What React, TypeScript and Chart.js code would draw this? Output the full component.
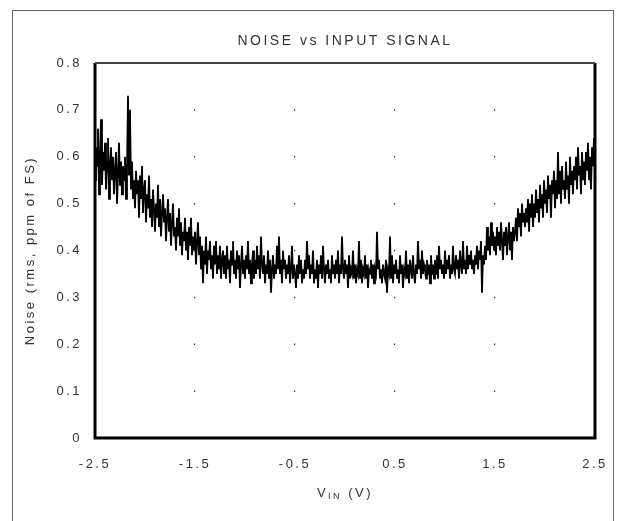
import React, { useEffect, useRef } from 'react';
import { Chart, registerables } from 'chart.js';

Chart.register(...registerables);

const TITLE = 'NOISE vs INPUT SIGNAL';
const Y_TITLE = 'Noise (rms, ppm of FS)';
const X_TITLE_MAIN = 'V';
const X_TITLE_SUB = 'IN';
const X_TITLE_TAIL = ' (V)';

const X_TICKS = [-2.5, -1.5, -0.5, 0.5, 1.5, 2.5];
const Y_TICKS = [0, 0.1, 0.2, 0.3, 0.4, 0.5, 0.6, 0.7, 0.8];

// input sweep: -2.5 V to +2.5 V, one reading every 10 mV
const VIN_START = -2.5;
const VIN_STEP = 0.01;

// noise readings (rms, ppm of FS), 10 readings per row (0.1 V per row)
const NOISE_PPM = [
  0.55, 0.62, 0.58, 0.66, 0.52, 0.60, 0.68, 0.54, 0.61, 0.57, // -2.5
  0.63, 0.53, 0.59, 0.64, 0.51, 0.58, 0.62, 0.55, 0.60, 0.52, // -2.4
  0.57, 0.61, 0.50, 0.56, 0.63, 0.54, 0.59, 0.52, 0.58, 0.55, // -2.3
  0.60, 0.51, 0.57, 0.73, 0.56, 0.70, 0.53, 0.59, 0.51, 0.55, // -2.2
  0.49, 0.57, 0.52, 0.55, 0.47, 0.56, 0.51, 0.58, 0.48, 0.53, // -2.1
  0.55, 0.46, 0.52, 0.49, 0.56, 0.47, 0.51, 0.45, 0.53, 0.49, // -2.0
  0.44, 0.50, 0.47, 0.54, 0.45, 0.51, 0.43, 0.48, 0.52, 0.46, // -1.9
  0.49, 0.42, 0.47, 0.51, 0.44, 0.48, 0.41, 0.46, 0.50, 0.43, // -1.8
  0.45, 0.40, 0.47, 0.43, 0.49, 0.41, 0.46, 0.39, 0.44, 0.42, // -1.7
  0.47, 0.40, 0.44, 0.38, 0.45, 0.41, 0.47, 0.39, 0.43, 0.40, // -1.6
  0.44, 0.37, 0.42, 0.46, 0.39, 0.43, 0.36, 0.41, 0.33, 0.40, // -1.5
  0.37, 0.43, 0.35, 0.40, 0.38, 0.42, 0.36, 0.39, 0.34, 0.41, // -1.4
  0.37, 0.42, 0.35, 0.39, 0.36, 0.41, 0.34, 0.38, 0.40, 0.35, // -1.3
  0.39, 0.34, 0.41, 0.36, 0.38, 0.33, 0.40, 0.37, 0.42, 0.35, // -1.2
  0.38, 0.34, 0.40, 0.36, 0.39, 0.32, 0.37, 0.41, 0.35, 0.38, // -1.1
  0.34, 0.39, 0.36, 0.42, 0.35, 0.38, 0.33, 0.37, 0.40, 0.34, // -1.0
  0.38, 0.35, 0.41, 0.36, 0.39, 0.34, 0.43, 0.37, 0.35, 0.39, // -0.9
  0.33, 0.37, 0.35, 0.40, 0.34, 0.38, 0.31, 0.36, 0.39, 0.34, // -0.8
  0.37, 0.35, 0.41, 0.36, 0.43, 0.35, 0.38, 0.33, 0.40, 0.36, // -0.7
  0.38, 0.34, 0.37, 0.35, 0.39, 0.33, 0.36, 0.41, 0.34, 0.37, // -0.6
  0.35, 0.32, 0.37, 0.34, 0.39, 0.35, 0.38, 0.33, 0.36, 0.34, // -0.5
  0.38, 0.35, 0.42, 0.36, 0.39, 0.34, 0.37, 0.35, 0.40, 0.33, // -0.4
  0.36, 0.34, 0.38, 0.32, 0.37, 0.35, 0.39, 0.34, 0.41, 0.36, // -0.3
  0.33, 0.37, 0.35, 0.38, 0.34, 0.36, 0.33, 0.39, 0.35, 0.37, // -0.2
  0.34, 0.38, 0.35, 0.40, 0.33, 0.37, 0.35, 0.43, 0.36, 0.34, // -0.1
  0.38, 0.35, 0.37, 0.32, 0.39, 0.34, 0.36, 0.35, 0.40, 0.34, // 0.0
  0.37, 0.33, 0.36, 0.35, 0.42, 0.34, 0.38, 0.33, 0.36, 0.35, // 0.1
  0.39, 0.34, 0.37, 0.32, 0.36, 0.35, 0.38, 0.34, 0.37, 0.33, // 0.2
  0.36, 0.35, 0.44, 0.36, 0.38, 0.34, 0.36, 0.33, 0.37, 0.35, // 0.3
  0.34, 0.38, 0.31, 0.36, 0.35, 0.43, 0.34, 0.39, 0.33, 0.37, // 0.4
  0.35, 0.38, 0.34, 0.36, 0.33, 0.39, 0.35, 0.37, 0.32, 0.36, // 0.5
  0.35, 0.40, 0.34, 0.37, 0.33, 0.38, 0.36, 0.34, 0.39, 0.35, // 0.6
  0.33, 0.37, 0.35, 0.42, 0.36, 0.38, 0.34, 0.40, 0.35, 0.37, // 0.7
  0.36, 0.34, 0.38, 0.35, 0.37, 0.33, 0.39, 0.35, 0.37, 0.34, // 0.8
  0.38, 0.35, 0.39, 0.34, 0.41, 0.36, 0.38, 0.35, 0.37, 0.34, // 0.9
  0.40, 0.35, 0.38, 0.36, 0.39, 0.34, 0.37, 0.35, 0.41, 0.36, // 1.0
  0.35, 0.39, 0.36, 0.38, 0.34, 0.40, 0.37, 0.35, 0.42, 0.36, // 1.1
  0.38, 0.35, 0.41, 0.36, 0.39, 0.37, 0.40, 0.36, 0.38, 0.35, // 1.2
  0.39, 0.37, 0.41, 0.36, 0.40, 0.38, 0.42, 0.31, 0.39, 0.37, // 1.3
  0.41, 0.38, 0.45, 0.40, 0.43, 0.39, 0.46, 0.41, 0.44, 0.40, // 1.4
  0.43, 0.39, 0.45, 0.41, 0.44, 0.40, 0.46, 0.42, 0.38, 0.44, // 1.5
  0.41, 0.45, 0.39, 0.43, 0.46, 0.40, 0.44, 0.38, 0.45, 0.42, // 1.6
  0.44, 0.47, 0.42, 0.49, 0.45, 0.48, 0.43, 0.50, 0.46, 0.48, // 1.7
  0.45, 0.49, 0.46, 0.51, 0.44, 0.50, 0.47, 0.52, 0.45, 0.50, // 1.8
  0.47, 0.53, 0.48, 0.51, 0.46, 0.54, 0.49, 0.52, 0.47, 0.55, // 1.9
  0.50, 0.53, 0.48, 0.56, 0.51, 0.54, 0.47, 0.55, 0.52, 0.57, // 2.0
  0.49, 0.55, 0.51, 0.61, 0.52, 0.57, 0.50, 0.58, 0.53, 0.55, // 2.1
  0.51, 0.59, 0.53, 0.56, 0.50, 0.60, 0.54, 0.57, 0.52, 0.58, // 2.2
  0.55, 0.60, 0.53, 0.62, 0.56, 0.58, 0.52, 0.61, 0.55, 0.59, // 2.3
  0.54, 0.61, 0.57, 0.63, 0.55, 0.60, 0.53, 0.62, 0.58, 0.64, // 2.4
  0.57, // 2.5
];

const FONT_FAMILY = '"Liberation Sans", Arial, Helvetica, sans-serif';
const TEXT_COLOR = '#333';
const LETTER_SPACING = '2.5px';

const spacingPlugin = {
  id: 'letterSpacing',
  beforeDraw(chart: any) {
    chart.ctx.letterSpacing = LETTER_SPACING;
  },
};

const framePlugin = {
  id: 'plotFrame',
  afterDatasetsDraw(chart: any) {
    const { ctx, chartArea } = chart;
    const { left, top, right, bottom } = chartArea;
    ctx.save();
    ctx.strokeStyle = '#000';
    ctx.lineWidth = 3;
    ctx.beginPath();
    ctx.moveTo(left, top);
    ctx.lineTo(left, bottom);
    ctx.lineTo(right, bottom);
    ctx.lineTo(right, top);
    ctx.stroke();
    ctx.lineWidth = 2;
    ctx.strokeStyle = '#444';
    ctx.beginPath();
    ctx.moveTo(left, top);
    ctx.lineTo(right, top);
    ctx.stroke();
    ctx.restore();
  },
};

const textPlugin = {
  id: 'titles',
  afterDraw(chart: any) {
    const { ctx, chartArea } = chart;
    const cx = (chartArea.left + chartArea.right) / 2;
    ctx.save();
    ctx.letterSpacing = LETTER_SPACING;
    ctx.fillStyle = TEXT_COLOR;
    ctx.textBaseline = 'middle';

    // chart title, centred over the plot area
    ctx.textAlign = 'left';
    ctx.font = `14px ${FONT_FAMILY}`;
    const tw = ctx.measureText(TITLE).width;
    ctx.fillText(TITLE, cx - tw / 2, chartArea.top - 22);

    // x-axis title with subscript
    const y = chartArea.bottom + 55;
    const f1 = `13px ${FONT_FAMILY}`;
    const f2 = `9px ${FONT_FAMILY}`;
    ctx.font = f1;
    const w1 = ctx.measureText(X_TITLE_MAIN).width;
    const w3 = ctx.measureText(X_TITLE_TAIL).width;
    ctx.font = f2;
    const w2 = ctx.measureText(X_TITLE_SUB).width;
    let x = cx - (w1 + w2 + w3) / 2;
    ctx.font = f1;
    ctx.fillText(X_TITLE_MAIN, x, y);
    x += w1;
    ctx.font = f2;
    ctx.fillText(X_TITLE_SUB, x, y + 4);
    x += w2;
    ctx.font = f1;
    ctx.fillText(X_TITLE_TAIL, x, y);
    ctx.restore();
  },
};

export default function App() {
  const canvasRef = useRef<HTMLCanvasElement | null>(null);

  useEffect(() => {
    const canvas = canvasRef.current;
    if (!canvas) return;
    const points = NOISE_PPM.map((v, i) => ({
      x: Math.round((VIN_START + i * VIN_STEP) * 1000) / 1000,
      y: v,
    }));
    const gridPeriod = 375 / (Y_TICKS.length - 1);
    const chart = new Chart(canvas, {
      type: 'line',
      data: {
        datasets: [
          {
            data: points,
            borderColor: '#000',
            borderWidth: 1.8,
            pointRadius: 0,
            tension: 0,
            fill: false,
          },
        ],
      },
      options: {
        animation: false,
        responsive: false,
        devicePixelRatio: 1,
        layout: { padding: { left: 0, right: 29, top: 63, bottom: 0 } },
        plugins: {
          legend: { display: false },
          tooltip: { enabled: false },
          title: { display: false },
        },
        scales: {
          x: {
            type: 'linear',
            min: X_TICKS[0],
            max: X_TICKS[X_TICKS.length - 1],
            afterBuildTicks: (scale: any) => {
              scale.ticks = X_TICKS.map((v) => ({ value: v }));
            },
            afterFit: (scale: any) => {
              scale.height = 83;
            },
            ticks: {
              color: TEXT_COLOR,
              font: { family: FONT_FAMILY, size: 13 },
              padding: 19,
              maxRotation: 0,
              callback: (v: any) => Number(v).toFixed(1),
            },
            grid: {
              display: true,
              drawTicks: false,
              color: '#333',
              lineWidth: 1.2,
            },
            border: { display: false, dash: [1.5, gridPeriod - 1.5], dashOffset: 0.75 },
            title: { display: false },
          },
          y: {
            type: 'linear',
            min: Y_TICKS[0],
            max: Y_TICKS[Y_TICKS.length - 1],
            afterBuildTicks: (scale: any) => {
              scale.ticks = Y_TICKS.map((v) => ({ value: v }));
            },
            afterFit: (scale: any) => {
              scale.width = 95;
            },
            ticks: {
              color: TEXT_COLOR,
              font: { family: FONT_FAMILY, size: 13 },
              padding: 13,
              callback: (v: any) => (Number(v) === 0 ? '0' : Number(v).toFixed(1)),
            },
            grid: { display: false, drawTicks: false },
            border: { display: false },
            title: {
              display: true,
              text: Y_TITLE,
              color: TEXT_COLOR,
              font: { family: FONT_FAMILY, size: 13 },
              padding: { top: 23, bottom: 0 },
            },
          },
        },
      },
      plugins: [spacingPlugin, framePlugin, textPlugin],
    } as any);
    return () => chart.destroy();
  }, []);

  return (
    <div
      style={{
        position: 'fixed',
        left: 0,
        top: 0,
        width: 624,
        height: 521,
        overflow: 'hidden',
        background: '#fff',
      }}
    >
      <canvas
        ref={canvasRef}
        width={624}
        height={521}
        style={{ position: 'absolute', left: 0, top: 0, width: 624, height: 521 }}
      />
      <div
        style={{
          position: 'absolute',
          left: 12,
          top: 10,
          width: 600,
          height: 600,
          border: '1px solid #666',
          pointerEvents: 'none',
        }}
      />
    </div>
  );
}
